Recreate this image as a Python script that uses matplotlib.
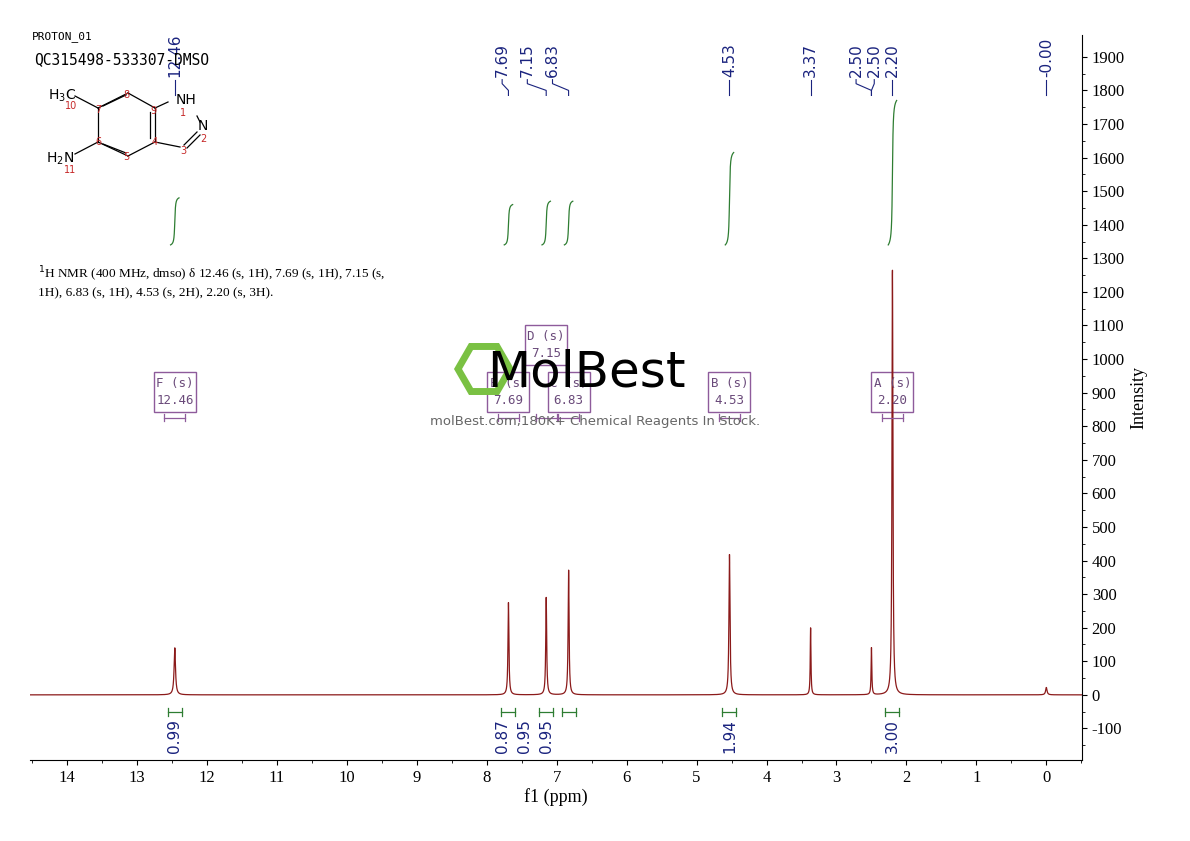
import numpy as np
import matplotlib
matplotlib.use('Agg')
import matplotlib.pyplot as plt
from matplotlib.patches import Rectangle, RegularPolygon

plt.rcParams['font.family'] = ['Liberation Serif', 'DejaVu Serif']
plt.rcParams['axes.unicode_minus'] = False

#Peak list (ppm, height)
peak_ppm = [12.46, 7.69, 7.15, 6.83, 4.53, 3.37, 2.50, 2.20, 0.00]
peak_height = [140, 275, 290, 372, 418, 200, 140, 1265, 22]
peak_width = [0.012, 0.008, 0.008, 0.008, 0.009, 0.006, 0.006, 0.008, 0.012]

#Labels on top (ppm at text, ppm at peak)
top_labels = ['12.46', '7.69', '7.15', '6.83', '4.53', '3.37', '2.50', '2.50', '2.20', '-0.00']
top_text_x = [12.46, 7.78, 7.42, 7.06, 4.53, 3.37, 2.72, 2.46, 2.20, 0.0]
top_peak_x = [12.46, 7.69, 7.15, 6.83, 4.53, 3.37, 2.50, 2.50, 2.20, 0.0]

#Integrals
int_centers = [12.46, 7.69, 7.15, 6.83, 4.53, 2.20]
int_values = ['0.99', '0.87', '0.95', '0.95', '1.94', '3.00']
int_label_x = [12.46, 7.78, 7.46, 7.15, 4.53, 2.20]
int_top = [1480, 1460, 1470, 1470, 1615, 1770]

#Multiplet boxes
box_names = ['F (s)', 'E (s)', 'D (s)', 'C (s)', 'B (s)', 'A (s)']
box_vals = ['12.46', '7.69', '7.15', '6.83', '4.53', '2.20']
box_x = [12.46, 7.69, 7.15, 6.83, 4.53, 2.20]
box_y = [900, 900, 1040, 900, 900, 900]

fig = plt.figure(figsize=(11.9, 8.41), dpi=100)
ax = fig.add_axes([30/1190, 81/841, 1052/1190, 725/841])

x = np.linspace(14.55, -0.52, 15000)
y = np.zeros_like(x)
for p, h, w in zip(peak_ppm, peak_height, peak_width):
    y += h*w**2/((x-p)**2+w**2)
ax.plot(x, y, color='#8b1a1a', lw=0.9)

#integral curves
for c, top in zip(int_centers, int_top):
    xs = np.linspace(c+0.06, c-0.06, 200)
    cum = 0.5+np.arctan((c-xs)/0.008)/np.pi
    cum = (cum-cum[0])/(cum[-1]-cum[0])
    ax.plot(xs, 1340+cum*(top-1340), color='#2e7d32', lw=0.9)

#integration brackets and values
for c, v, lx in zip(int_centers, int_values, int_label_x):
    ax.plot([c+0.1, c-0.1], [-50, -50], color='#2e7d32', lw=0.9)
    ax.plot([c+0.1, c+0.1], [-38, -62], color='#2e7d32', lw=0.9)
    ax.plot([c-0.1, c-0.1], [-38, -62], color='#2e7d32', lw=0.9)
    ax.text(lx, -72, v, rotation=90, ha='center', va='top', color='#1a237e',
            fontsize=11, family='DejaVu Sans')

#top peak labels
for t, tx, px in zip(top_labels, top_text_x, top_peak_x):
    ax.text(tx, 1840, t, rotation=90, ha='center', va='bottom', color='#1a237e',
            fontsize=11, family='DejaVu Sans')
    ax.plot([tx, tx, px, px], [1832, 1820, 1800, 1785], color='#1a237e', lw=0.8)

#multiplet boxes
for n, v, bx, by in zip(box_names, box_vals, box_x, box_y):
    ax.add_patch(Rectangle((bx+0.3, by-58), -0.6, 118, fill=False, ec='#8e5b9b', lw=1))
    ax.text(bx, by+28, n, ha='center', va='center', color='#6a4a7a', fontsize=9, family='DejaVu Sans Mono')
    ax.text(bx, by-22, v, ha='center', va='center', color='#6a4a7a', fontsize=9, family='DejaVu Sans Mono')
    ax.plot([bx+0.15, bx-0.15], [825, 825], color='#8e5b9b', lw=0.9)
    ax.plot([bx+0.15, bx+0.15], [815, 835], color='#8e5b9b', lw=0.9)
    ax.plot([bx-0.15, bx-0.15], [815, 835], color='#8e5b9b', lw=0.9)

ax.set_xlim(14.53, -0.51)
ax.set_ylim(-194, 1965)
ax.spines['top'].set_visible(False)
ax.spines['left'].set_visible(False)
ax.yaxis.tick_right()
ax.yaxis.set_label_position('right')
ax.set_yticks(np.arange(-100, 2000, 100))
ax.set_yticks(np.arange(-150, 1950, 50), minor=True)
ax.set_xticks(np.arange(0, 15, 1))
ax.set_xticks(np.arange(-0.5, 14.6, 0.5), minor=True)
ax.tick_params(labelsize=12)
ax.set_ylabel('Intensity', fontsize=13)
ax.set_xlabel('f1 (ppm)', fontsize=13, labelpad=2)

#overlay in pixel coordinates for header, structure and watermark
ov = fig.add_axes([0, 0, 1, 1])
ov.set_xlim(0, 1190)
ov.set_ylim(841, 0)
ov.axis('off')
ov.text(32, 37, 'PROTON_01', fontsize=8, family='DejaVu Sans Mono', va='center')
ov.text(34, 60, 'QC315498-533307-DMSO', fontsize=10.5, family='DejaVu Sans Mono', va='center')
bonds = [((98,108),(128,93)), ((128,93),(155,108)), ((155,108),(155,142)), ((155,142),(128,156)),
         ((128,156),(98,142)), ((98,142),(98,108)), ((98,108),(75,96)), ((98,142),(75,154)),
         ((155,108),(168,102)), ((197,116),(200,122)), ((197,132),(184,145)), ((180,147),(155,142))]
for a, b in bonds:
    ov.plot([a[0], b[0]], [a[1], b[1]], color='k', lw=0.9)
for a, b in [((103,106),(126,95)), ((150,112),(150,138)), ((103,144),(126,153)), ((200,135),(187,148))]:
    ov.plot([a[0], b[0]], [a[1], b[1]], color='k', lw=0.9)
ov.text(62, 96, 'H$_3$C', fontsize=10, family='DejaVu Sans', va='center', ha='center')
ov.text(60, 159, 'H$_2$N', fontsize=10, family='DejaVu Sans', va='center', ha='center')
ov.text(186, 100, 'NH', fontsize=10, family='DejaVu Sans', va='center', ha='center')
ov.text(203, 126, 'N', fontsize=10, family='DejaVu Sans', va='center', ha='center')
for t, px, py in [('10',71,106), ('11',70,170), ('7',98,110), ('8',126,95), ('9',153,111), ('1',183,113),
                  ('2',203,139), ('3',183,151), ('4',155,142), ('5',126,157), ('6',98,142)]:
    ov.text(px, py, t, fontsize=7, color='#c62828', family='DejaVu Sans', va='center', ha='center')
ov.text(38, 282, '$^1$H NMR (400 MHz, dmso) δ 12.46 (s, 1H), 7.69 (s, 1H), 7.15 (s,\n1H), 6.83 (s, 1H), 4.53 (s, 2H), 2.20 (s, 3H).',
        fontsize=9.5, va='center', linespacing=1.4)
ov.add_patch(RegularPolygon((484, 369), 6, radius=26, orientation=np.pi/6, fill=False, ec='#7ac143', lw=5))
ov.text(586, 372, 'MolBest', fontsize=36, family='DejaVu Sans', va='center', ha='center', color='k')
ov.text(595, 421, 'molBest.com,180K+ Chemical Reagents In Stock.', fontsize=9.5, family='DejaVu Sans',
        va='center', ha='center', color='#666666')

fig.savefig('out.png', dpi=100)
